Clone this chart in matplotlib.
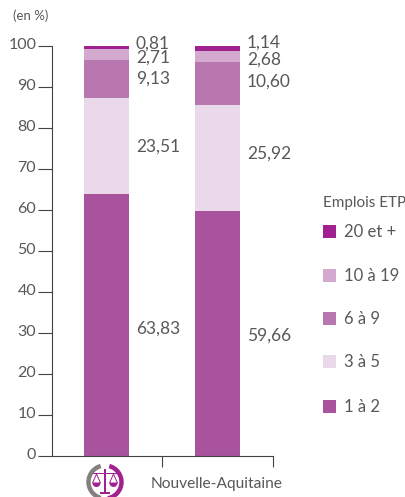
import matplotlib
matplotlib.use("Agg")
import matplotlib.pyplot as plt
from matplotlib.patches import Arc, Rectangle, Polygon, Wedge
from matplotlib.transforms import ScaledTranslation

plt.rcParams['font.family'] = ['Lato', 'DejaVu Sans']

# data
groups = ["", "Nouvelle-Aquitaine"]
classes = ["1 à 2", "3 à 5", "6 à 9", "10 à 19", "20 et +"]
v_1_2 = [63.83, 59.66]
v_3_5 = [23.51, 25.92]
v_6_9 = [9.13, 10.60]
v_10_19 = [2.71, 2.68]
v_20 = [0.81, 1.14]
series = [v_1_2, v_3_5, v_6_9, v_10_19, v_20]
colors = ["#A9539E", "#EAD8EB", "#B878AF", "#D4A9CF", "#A0218F"]
yticks = [0, 10, 20, 30, 40, 50, 60, 70, 80, 90, 100]

W, H = 405, 497
txt = "#58585A"
fig = plt.figure(figsize=(W / 100, H / 100), dpi=100)
ax = fig.add_axes([51.5 / W, 1 - 456 / H, 221 / W, 410 / H])

bottom = [0, 0]
for vals, c in zip(series, colors):
    ax.bar([0, 1], vals, 0.405, bottom=bottom, color=c, linewidth=0)
    bottom = [b + v for b, v in zip(bottom, vals)]

ax.set_xlim(-0.5, 1.5)
ax.set_ylim(0, 100)
ax.spines['top'].set_visible(False)
ax.spines['right'].set_visible(False)
ax.spines['left'].set_color("#444444")
ax.spines['bottom'].set_color("#444444")
ax.set_yticks(yticks)
ax.tick_params(axis='y', labelsize=11.5, labelcolor=txt, color="#444444", length=10, pad=1)
ax.set_xticks([0.5, 1.5])
ax.set_xticklabels([])
ax.tick_params(axis='x', color="#444444", length=8)

# y labels sit a bit above their ticks
shift = ScaledTranslation(0, 2.5 / 100, fig.dpi_scale_trans)
for lab in ax.get_yticklabels():
    lab.set_transform(lab.get_transform() + shift)

# value labels, placed by hand where the small segments would overlap
left_pos = [329, 147, 79, 58, 44]
right_pos = [336, 154, 82, 60, 43]
for i, pos in enumerate([left_pos, right_pos]):
    for vals, y in zip(series, pos):
        fig.text((136 + i * 111) / W, 1 - y / H, f"{vals[i]:.2f}".replace(".", ","),
                 fontsize=12.5, color=txt, va='center', ha='left')

fig.text(13 / W, 1 - 16 / H, "(en %)", fontsize=9.5, color=txt, va='center')
fig.text(151 / W, 1 - 484 / H, groups[1], fontsize=11.2, color=txt, va='center')

# legend
fig.text(323 / W, 1 - 203 / H, "Emplois ETP", fontsize=11, color=txt, va='center')
leg_y = [406, 361, 318, 275, 231]
for name, c, y in zip(classes, colors, leg_y):
    fig.add_artist(Rectangle((323 / W, 1 - (y + 6.5) / H), 13 / W, 13 / H,
                             transform=fig.transFigure, color=c, linewidth=0))
    fig.text(344 / W, 1 - (y + 1) / H, name, fontsize=12, color=txt, va='center')

# scales logo in pixel coordinates
logo = fig.add_axes([0, 0, 1, 1], facecolor='none')
logo.set_xlim(0, W)
logo.set_ylim(H, 0)
logo.axis('off')
cx, cy = 105, 482
pink = "#A0218F"
logo.add_patch(Arc((cx, cy), 33, 33, theta1=105, theta2=255, color="#85807D", lw=3.2))
logo.add_patch(Arc((cx, cy), 33, 33, theta1=-75, theta2=80, color=pink, lw=3.2))
logo.add_patch(Rectangle((cx - 0.8, cy - 13), 1.6, 24, color=pink, lw=0))
logo.add_patch(Rectangle((cx - 12, cy - 9), 24, 1.3, color=pink, lw=0))
logo.add_patch(Rectangle((cx - 5, cy + 10), 10, 1.6, color=pink, lw=0))
for dx in (-8.5, 8.5):
    logo.add_patch(Wedge((cx + dx, cy + 1), 4, 0, 180, color=pink, lw=0))
    logo.add_patch(Polygon([(cx + dx - 4, cy + 1), (cx + dx, cy - 8), (cx + dx + 4, cy + 1)],
                           closed=True, fill=False, edgecolor=pink, lw=0.7))

fig.savefig("out.png", dpi=100)
